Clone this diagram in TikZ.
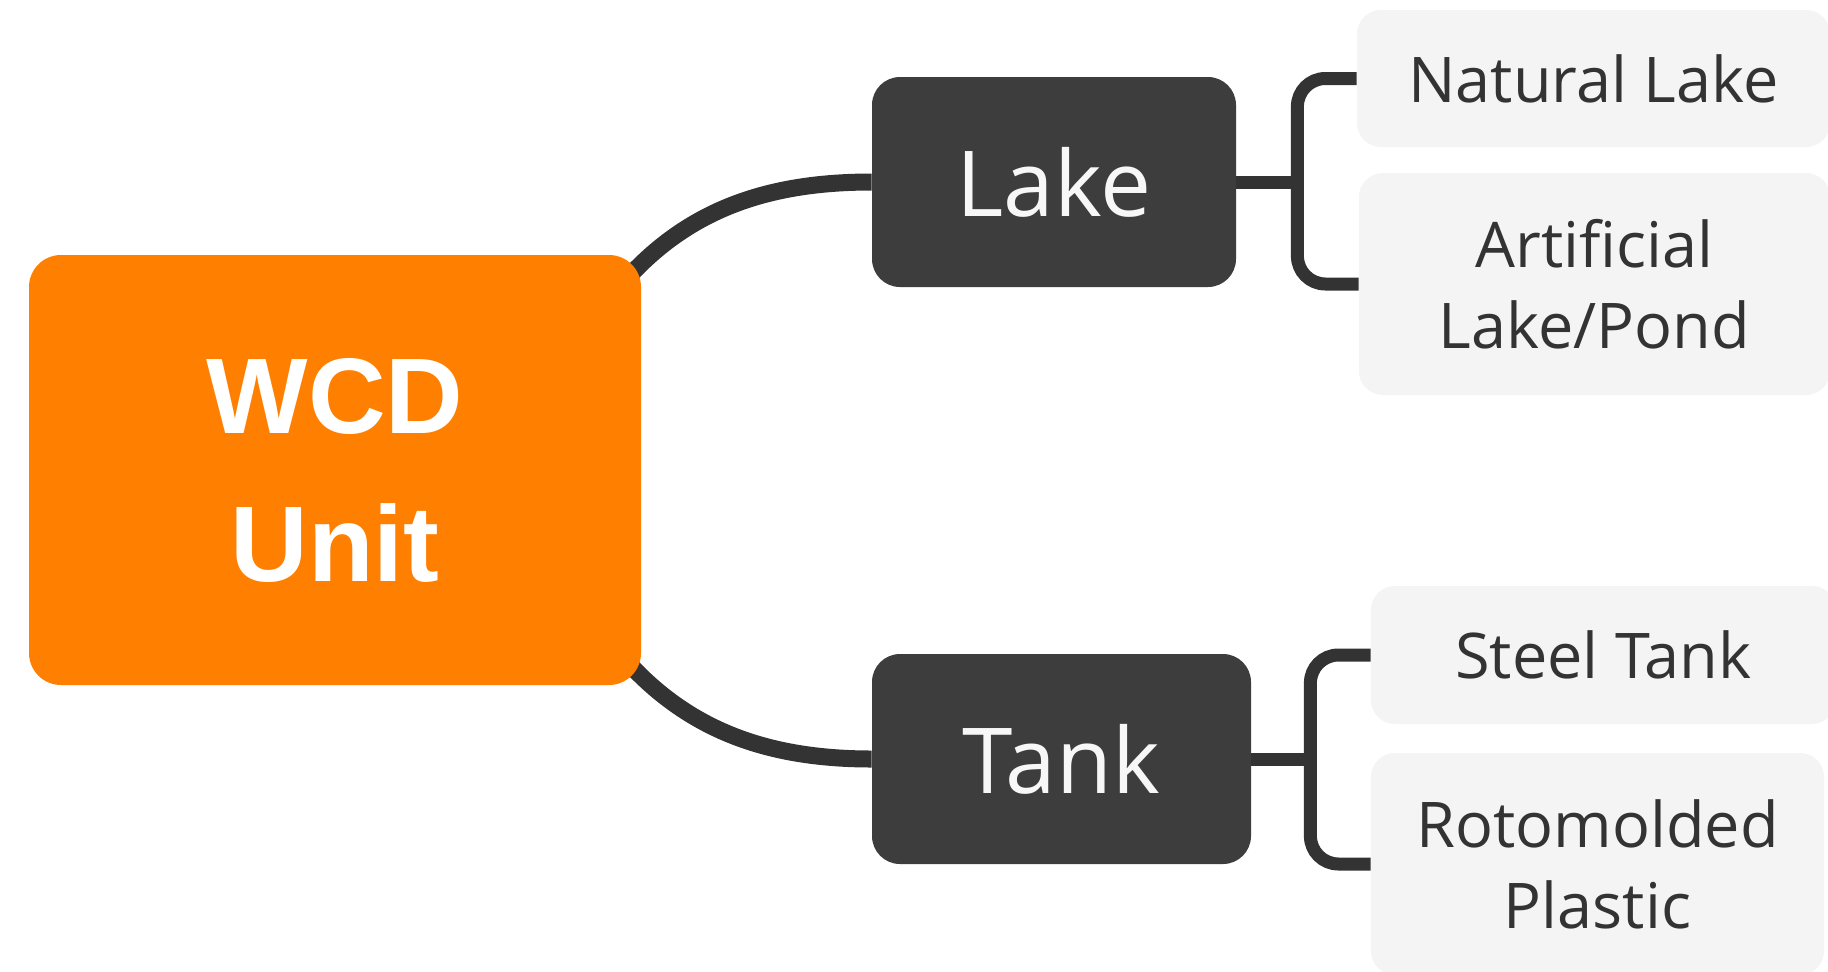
\documentclass[tikz,border=0pt]{standalone}
\usepackage{fontspec}
\setmainfont{Open Sans}[Ligatures=NoCommon]
\newfontfamily\wcdfont{Liberation Sans}
\usetikzlibrary{calc}
\definecolor{orng}{HTML}{FF7F00}
\definecolor{darkbox}{HTML}{3D3D3D}
\definecolor{lightbox}{HTML}{F4F4F4}
\definecolor{linec}{HTML}{333333}
\definecolor{txtdark}{HTML}{333333}
\definecolor{txtlight}{HTML}{F7F7F7}
\pgfdeclarelayer{bg}
\pgfsetlayers{bg,main}
\begin{document}
\begin{tikzpicture}[x=0.5pt,y=-0.5pt,
  rootbox/.style={fill=orng, rounded corners=16pt, text=white, inner sep=0pt,
    font=\wcdfont\bfseries\fontsize{53.75pt}{74pt}\selectfont, align=center},
  midbox/.style={fill=darkbox, rounded corners=14pt, text=txtlight, inner sep=0pt,
    font=\fontsize{45.5pt}{55pt}\selectfont, align=center, minimum height=105pt},
  leafbox/.style={fill=lightbox, rounded corners=12pt, text=txtdark, inner sep=0pt,
    font=\fontsize{31.5pt}{40.5pt}\selectfont, align=center},
  curveline/.style={draw=linec, line width=8.5pt},
  bracketline/.style={draw=linec, line width=6.5pt, rounded corners=14pt}]
\useasboundingbox (0,0) rectangle (1828,971);
\begin{pgfonlayer}{bg}
  \fill[white] (0,0) rectangle (1828,971);
\end{pgfonlayer}

\node[rootbox, minimum width=306pt, minimum height=215pt] (wcd) at (335,470) {WCD\\Unit};
\node[midbox, minimum width=182pt] (lake) at (1054,182) {Lake};
\node[midbox, minimum width=189.5pt] (tank) at (1061.5,759) {Tank};
\node[leafbox, minimum width=236.5pt, minimum height=68.5pt] (nat) at (1593.5,78.5) {Natural Lake};
\node[leafbox, minimum width=235.5pt, minimum height=111pt] (art) at (1594.5,284) {Artificial\\Lake/Pond};
\node[leafbox, minimum width=232.5pt, minimum height=69pt] (steel) at (1603.5,655) {Steel Tank};
\node[leafbox, minimum width=226.5pt, minimum height=111pt] (roto) at (1597.5,864) {Rotomolded\\Plastic};

\coordinate (wtopin) at ($(wcd.north east)+(-34,43)$);
\coordinate (wtop) at ($(wcd.north east)+(-4,13)$);
\coordinate (wbotin) at ($(wcd.south east)+(-34,-43)$);
\coordinate (wbot) at ($(wcd.south east)+(-4,-13)$);

\begin{pgfonlayer}{bg}
  \draw[curveline] (wtopin) -- (wtop) .. controls ($(wtop)+(60,-60)$) and ($(lake.west)+(-100,0)$) .. (lake.west);
  \draw[curveline] (wbotin) -- (wbot) .. controls ($(wbot)+(60,60)$) and ($(tank.west)+(-100,0)$) .. (tank.west);
  \draw[bracketline] (lake.east) -- ($(lake.east)+(61,0)$);
  \draw[bracketline] (nat.west) -| ($(lake.east)+(61,0)$) |- (art.west);
  \draw[bracketline] (tank.east) -- ($(tank.east)+(59,0)$);
  \draw[bracketline] (steel.west) -| ($(tank.east)+(59,0)$) |- (roto.west);
\end{pgfonlayer}
\end{tikzpicture}
\end{document}
